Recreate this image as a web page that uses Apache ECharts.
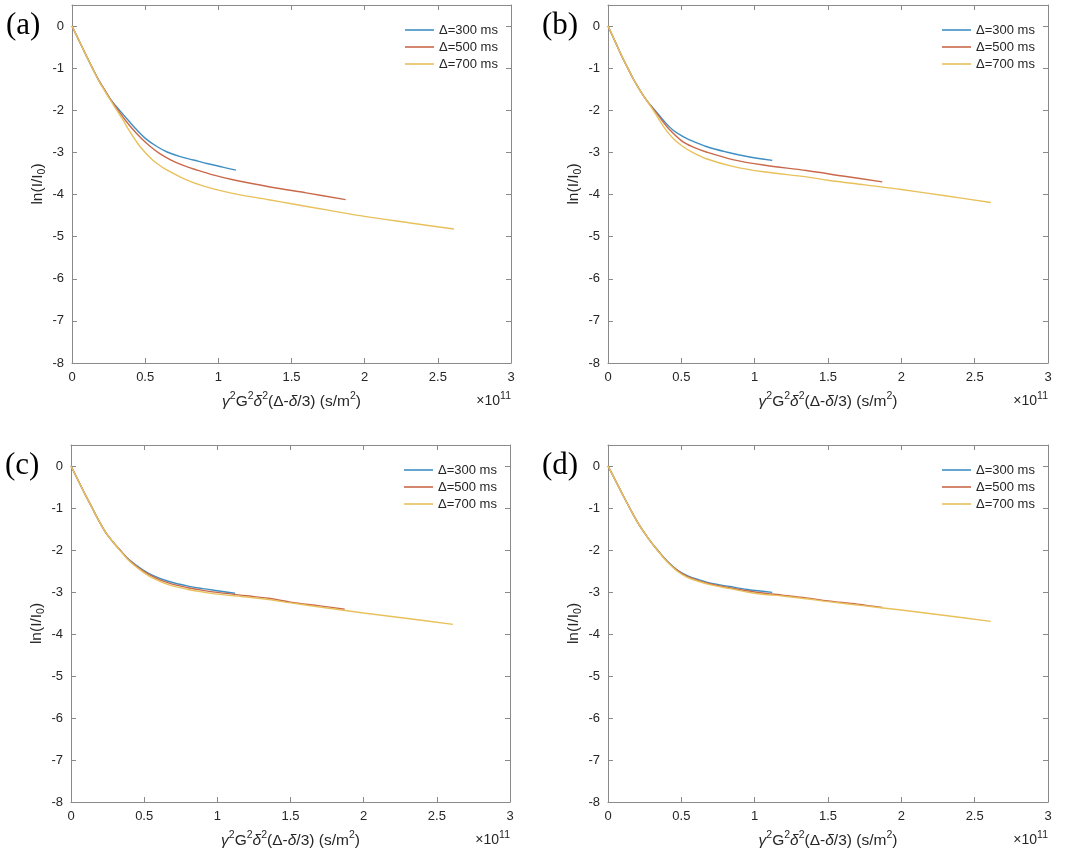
<!DOCTYPE html>
<html>
<head>
<meta charset="utf-8">
<script src="https://cdn.jsdelivr.net/npm/echarts@6/dist/echarts.min.js"></script>
<style>
html,body{margin:0;padding:0;background:#fff;}
#chart{width:1076px;height:856px;}
</style>
</head>
<body>
<div id="chart"></div>
<script>
// ---- data (x in units of 1e11 s/m^2, y = ln(I/I0)) ----
const seriesNames = ['Δ=300 ms', 'Δ=500 ms', 'Δ=700 ms'];
const panelLabels = ['(a)', '(b)', '(c)', '(d)'];
const xTickLabels = [0, 0.5, 1, 1.5, 2, 2.5, 3];
const yTickLabels = [-8, -7, -6, -5, -4, -3, -2, -1, 0];

// panel (a)
const a300 = [[0,0],[0.05,-0.36],[0.1,-0.72],[0.14,-1.0],[0.18,-1.27],[0.22,-1.5],[0.27,-1.77],[0.33,-2.02],[0.39,-2.26],[0.444,-2.47],[0.51,-2.69],[0.58,-2.86],[0.65,-2.99],[0.74,-3.1],[0.83,-3.18],[0.93,-3.27],[1.03,-3.35],[1.12,-3.42]];
const a500 = [[0,0],[0.05,-0.36],[0.1,-0.72],[0.14,-1.0],[0.18,-1.27],[0.22,-1.5],[0.27,-1.78],[0.32,-2.02],[0.37,-2.26],[0.42,-2.47],[0.48,-2.69],[0.535,-2.86],[0.6,-3.03],[0.67,-3.17],[0.76,-3.31],[0.855,-3.42],[0.97,-3.54],[1.1,-3.65],[1.355,-3.82],[1.6,-3.96],[1.87,-4.12]];
const a700 = [[0,0],[0.05,-0.36],[0.1,-0.72],[0.14,-1.0],[0.18,-1.28],[0.22,-1.52],[0.27,-1.8],[0.31,-2.02],[0.35,-2.24],[0.387,-2.46],[0.43,-2.69],[0.467,-2.87],[0.547,-3.17],[0.6,-3.31],[0.65,-3.42],[0.774,-3.64],[0.9,-3.8],[1.08,-3.96],[1.355,-4.13],[1.5,-4.22],[1.75,-4.37],[2.0,-4.52],[2.3,-4.67],[2.61,-4.82]];

// panel (b)
const b300 = [[0,0],[0.05,-0.38],[0.1,-0.76],[0.135,-1.0],[0.17,-1.24],[0.21,-1.48],[0.25,-1.7],[0.29,-1.88],[0.33,-2.04],[0.38,-2.25],[0.44,-2.46],[0.5,-2.6],[0.556,-2.7],[0.67,-2.86],[0.806,-2.99],[0.94,-3.09],[1.12,-3.19]];
const b500 = [[0,0],[0.05,-0.38],[0.1,-0.76],[0.135,-1.0],[0.17,-1.24],[0.21,-1.48],[0.25,-1.7],[0.29,-1.89],[0.33,-2.06],[0.37,-2.25],[0.42,-2.46],[0.5,-2.72],[0.578,-2.87],[0.67,-2.99],[0.85,-3.17],[1.06,-3.3],[1.353,-3.43],[1.6,-3.56],[1.87,-3.7]];
const b700 = [[0,0],[0.05,-0.38],[0.1,-0.76],[0.135,-1.0],[0.17,-1.24],[0.21,-1.48],[0.25,-1.7],[0.29,-1.9],[0.32,-2.06],[0.355,-2.26],[0.396,-2.47],[0.453,-2.7],[0.51,-2.86],[0.567,-2.98],[0.67,-3.15],[0.85,-3.33],[1.06,-3.46],[1.353,-3.58],[1.5,-3.66],[1.75,-3.77],[2.0,-3.88],[2.3,-4.03],[2.61,-4.19]];

// panel (c)
const c300 = [[0,0],[0.05,-0.35],[0.1,-0.7],[0.145,-1.0],[0.19,-1.3],[0.24,-1.6],[0.29,-1.82],[0.335,-2.0],[0.4,-2.24],[0.49,-2.47],[0.57,-2.62],[0.67,-2.75],[0.8,-2.86],[0.9,-2.92],[1.0,-2.97],[1.12,-3.03]];
const c500 = [[0,0],[0.05,-0.35],[0.1,-0.7],[0.145,-1.0],[0.19,-1.3],[0.24,-1.6],[0.29,-1.82],[0.335,-2.0],[0.4,-2.25],[0.49,-2.49],[0.57,-2.65],[0.67,-2.79],[0.8,-2.9],[0.9,-2.96],[1.0,-3.01],[1.2,-3.09],[1.35,-3.15],[1.5,-3.24],[1.7,-3.33],[1.87,-3.41]];
const c700 = [[0,0],[0.05,-0.35],[0.1,-0.7],[0.145,-1.0],[0.19,-1.3],[0.24,-1.6],[0.29,-1.82],[0.335,-2.01],[0.4,-2.27],[0.49,-2.52],[0.57,-2.69],[0.67,-2.83],[0.8,-2.94],[0.9,-3.0],[1.0,-3.05],[1.2,-3.12],[1.35,-3.18],[1.5,-3.26],[1.75,-3.38],[2.0,-3.5],[2.3,-3.63],[2.61,-3.77]];

// panel (d)
const d300 = [[0,0],[0.05,-0.34],[0.1,-0.68],[0.148,-1.0],[0.2,-1.33],[0.25,-1.6],[0.295,-1.82],[0.337,-2.0],[0.4,-2.25],[0.47,-2.47],[0.54,-2.61],[0.62,-2.71],[0.7,-2.79],[0.83,-2.87],[0.95,-2.94],[1.12,-3.01]];
const d500 = [[0,0],[0.05,-0.34],[0.1,-0.68],[0.148,-1.0],[0.2,-1.33],[0.25,-1.6],[0.295,-1.82],[0.337,-2.0],[0.4,-2.26],[0.47,-2.48],[0.54,-2.63],[0.62,-2.73],[0.7,-2.81],[0.83,-2.9],[1.0,-3.0],[1.2,-3.08],[1.35,-3.14],[1.5,-3.21],[1.7,-3.29],[1.87,-3.37]];
const d700 = [[0,0],[0.05,-0.34],[0.1,-0.68],[0.148,-1.0],[0.2,-1.33],[0.25,-1.6],[0.295,-1.82],[0.337,-2.01],[0.4,-2.27],[0.47,-2.5],[0.54,-2.65],[0.62,-2.75],[0.7,-2.83],[0.83,-2.92],[1.0,-3.03],[1.2,-3.1],[1.35,-3.16],[1.5,-3.23],[1.75,-3.33],[2.0,-3.43],[2.3,-3.56],[2.61,-3.7]];

const panelData = [[a300, a500, a700], [b300, b500, b700], [c300, c500, c700], [d300, d500, d700]];
const colors = ['#3f8fc3', '#c9694b', '#e8c15c'];

// ---- layout ----
const grids = [
  {left: 72, top: 5, width: 439, height: 358},
  {left: 608, top: 5, width: 440, height: 358},
  {left: 71, top: 445, width: 439, height: 357},
  {left: 608, top: 445, width: 440, height: 357}
];
const FONT = 'Liberation Sans, Arial, sans-serif';
const axisColor = '#8a8a8a';
const textColor = '#262626';

const richCommon = {
  it: {fontStyle: 'italic', fontSize: 15.5, fontFamily: FONT, color: textColor},
  sup: {fontSize: 10.5, lineHeight: 10, verticalAlign: 'top', fontFamily: FONT, color: textColor},
  sub: {fontSize: 10.5, lineHeight: 10, verticalAlign: 'bottom', fontFamily: FONT, color: textColor}
};

const xAxes = [], yAxes = [], series = [], legends = [], graphics = [];
grids.forEach((g, i) => {
  xAxes.push({
    gridIndex: i, type: 'value', min: 0, max: 3, interval: 0.5, position: 'bottom',
    axisLine: {show: true, onZero: false, lineStyle: {color: axisColor, width: 1}},
    axisTick: {show: true, inside: true, length: 5, lineStyle: {color: axisColor}},
    axisLabel: {color: textColor, fontSize: 13, fontFamily: FONT, margin: 8,
      formatter: v => xTickLabels.indexOf(v) >= 0 ? String(v) : ''},
    splitLine: {show: false},
    name: '{it|γ}{sup|2}G{sup|2}{it|δ}{sup|2}(Δ-{it|δ}/3) (s/m{sup|2})',
    nameLocation: 'middle', nameGap: 28,
    nameTextStyle: {fontSize: 15.5, lineHeight: 21, fontFamily: FONT, color: textColor, rich: richCommon}
  });
  xAxes.push({
    gridIndex: i, type: 'value', min: 0, max: 3, interval: 0.5, position: 'top',
    axisLine: {show: true, onZero: false, lineStyle: {color: axisColor, width: 1}},
    axisTick: {show: true, inside: true, length: 5, lineStyle: {color: axisColor}},
    axisLabel: {show: false}, splitLine: {show: false}
  });
  yAxes.push({
    gridIndex: i, type: 'value', min: -8, max: 0.5, interval: 1, position: 'left',
    axisLine: {show: true, onZero: false, lineStyle: {color: axisColor, width: 1}},
    axisTick: {show: true, inside: true, length: 5, lineStyle: {color: axisColor}},
    axisLabel: {color: textColor, fontSize: 13, fontFamily: FONT, margin: 8,
      formatter: v => yTickLabels.indexOf(v) >= 0 ? String(v) : ''},
    splitLine: {show: false},
    name: 'ln(I/I{sub|0})', nameLocation: 'middle', nameGap: 24,
    nameTextStyle: {fontSize: 15.5, lineHeight: 21, fontFamily: FONT, color: textColor, rich: richCommon}
  });
  yAxes.push({
    gridIndex: i, type: 'value', min: -8, max: 0.5, interval: 1, position: 'right',
    axisLine: {show: true, onZero: false, lineStyle: {color: axisColor, width: 1}},
    axisTick: {show: true, inside: true, length: 5, lineStyle: {color: axisColor}},
    axisLabel: {show: false}, splitLine: {show: false}
  });
  panelData[i].forEach((d, k) => {
    series.push({
      name: seriesNames[k], type: 'line', xAxisIndex: 2 * i, yAxisIndex: 2 * i,
      data: d, showSymbol: false, symbol: 'none', smooth: 0.35, silent: true,
      lineStyle: {color: colors[k], width: 1.4}, itemStyle: {color: colors[k]},
      z: 2 + k
    });
  });
  legends.push({
    orient: 'vertical', left: g.left + g.width - 106, top: g.top + 18, padding: 0,
    itemWidth: 29, itemHeight: 1.6, itemGap: 3, icon: 'rect',
    data: seriesNames, selectedMode: false,
    textStyle: {fontSize: 13, lineHeight: 14, fontFamily: FONT, color: textColor, padding: [0, 0, 0, 0]}
  });
  graphics.push({
    type: 'text', left: g.left - 66, top: g.top + 5,
    style: {text: panelLabels[i], font: '31px "Liberation Serif", "Times New Roman", serif', fill: '#000'}
  });
  graphics.push({
    type: 'text', right: 1076 - (g.left + g.width), top: g.top + g.height + 28,
    style: {text: '×10{s|11}', fontSize: 14, lineHeight: 20, fontFamily: FONT, fill: textColor,
      rich: {s: {fontSize: 10.5, lineHeight: 10, verticalAlign: 'top', fontFamily: FONT, fill: textColor}}}
  });
});

const chart = echarts.init(document.getElementById('chart'), null, {renderer: 'canvas'});
chart.setOption({
  backgroundColor: '#fff',
  animation: false,
  grid: grids,
  xAxis: xAxes,
  yAxis: yAxes,
  legend: legends,
  series: series,
  graphic: graphics
});
</script>
</body>
</html>
